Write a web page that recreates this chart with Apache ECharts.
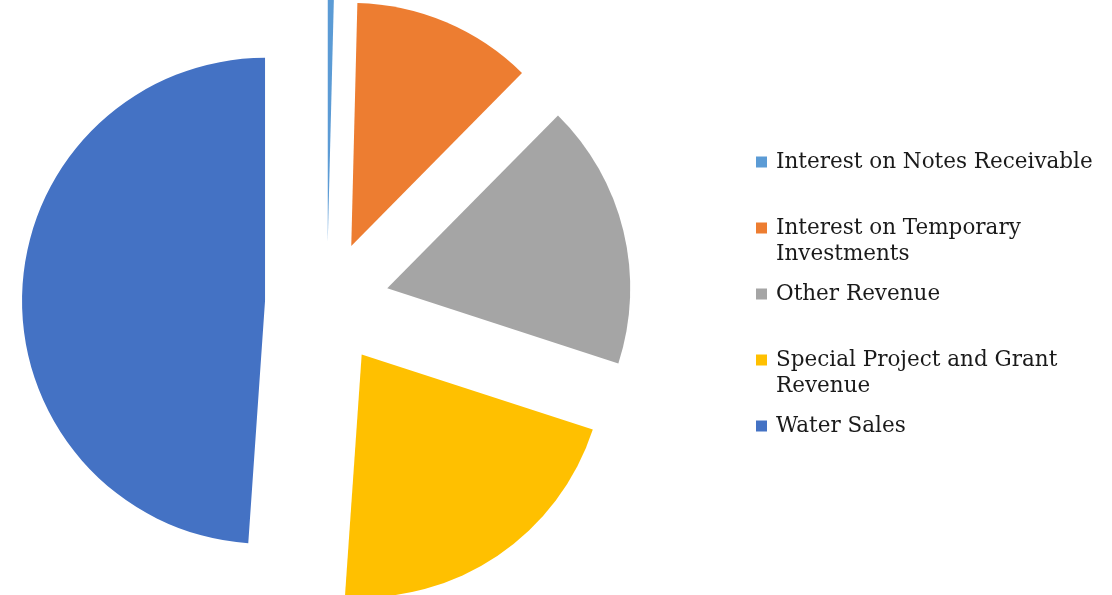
<!DOCTYPE html>
<html>
<head>
<meta charset="utf-8">
<script src="https://cdn.jsdelivr.net/npm/echarts@6/dist/echarts.min.js"></script>
<style>
html,body{margin:0;padding:0;background:#fff;}
#chart{width:1112px;height:595px;}
</style>
</head>
<body>
<div id="chart"></div>
<script>
var categories = [
  'Interest on Notes Receivable',
  'Interest on Temporary Investments',
  'Other Revenue',
  'Special Project and Grant Revenue',
  'Water Sales'
];
var legendLabels = [
  'Interest on Notes Receivable',
  '\nInterest on Temporary\nInvestments',
  'Other Revenue',
  '\nSpecial Project and Grant\nRevenue',
  'Water Sales'
];
var values = [0.4, 12.0, 17.6, 21.1, 48.9];
var colors = ['#5B9BD5', '#ED7D31', '#A5A5A5', '#FFC000', '#4472C4'];

var chart = echarts.init(document.getElementById('chart'));
chart.setOption({
  animation: false,
  color: colors,
  legend: {
    orient: 'vertical',
    left: 756,
    top: 149,
    padding: 0,
    itemGap: 14,
    itemWidth: 11,
    itemHeight: 11,
    icon: 'rect',
    selectedMode: false,
    data: categories,
    formatter: function (name) {
      return legendLabels[categories.indexOf(name)];
    },
    textStyle: {
      fontFamily: 'DejaVu Serif',
      fontSize: 21.5,
      lineHeight: 26,
      color: '#1a1a1a',
      padding: [0, 0, 0, 4]
    }
  },
  series: [{
    type: 'pie',
    center: [327, 303],
    radius: 243,
    startAngle: 90,
    clockwise: true,
    selectedMode: 'multiple',
    selectedOffset: 62,
    label: {show: false},
    labelLine: {show: false},
    emphasis: {disabled: true},
    itemStyle: {borderWidth: 0},
    data: categories.map(function (c, i) {
      return {name: c, value: values[i], selected: true};
    })
  }]
});
</script>
</body>
</html>
